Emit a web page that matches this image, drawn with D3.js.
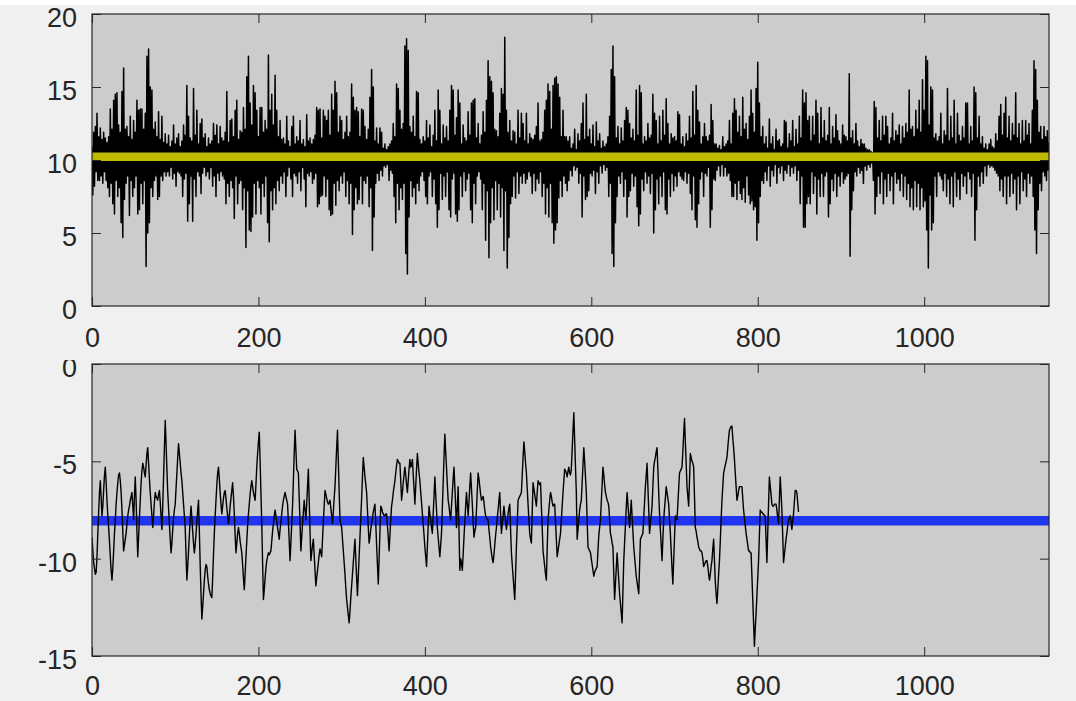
<!DOCTYPE html>
<html>
<head>
<meta charset="utf-8">
<script src="https://cdn.jsdelivr.net/npm/d3@7"></script>
<style>
  body { margin: 0; background: #f0f0f0; }
  svg { display: block; }
</style>
</head>
<body>
<svg id="chart" width="1076" height="701"></svg>
<script>
// Raw sampled signal (one value per sample index)
const signal = [
10.9,7.6,11.9,8.2,12.3,9.2,13.2,8.6,11.6,8.6,
12.2,8.9,11.4,8.4,11.9,9.2,11.5,8.6,11.2,8.1,
11.6,7.5,13.5,8.4,12.1,7.0,14.1,6.3,14.5,8.6,
14.6,7.5,12.4,8.1,11.9,5.7,14.7,4.7,16.3,7.3,
12.1,8.4,12.3,8.9,11.6,6.2,13.0,8.6,11.4,7.5,
12.7,8.1,11.9,8.9,14.1,6.3,13.4,6.6,13.5,8.4,
13.5,7.0,12.1,8.6,13.2,2.7,17.1,5.0,17.6,5.7,
15.0,8.1,14.8,7.5,12.1,8.6,12.6,8.9,11.6,7.3,
13.3,7.5,11.4,8.9,13.0,8.6,11.2,9.2,11.8,8.9,
11.1,9.2,11.7,8.9,10.9,9.5,11.3,8.7,12.4,9.1,
11.1,8.2,11.5,9.2,11.8,9.1,10.9,8.9,11.3,7.5,
12.4,8.7,11.7,9.1,15.1,5.8,13.0,7.0,11.5,8.9,
11.3,5.8,14.9,8.7,11.7,7.5,13.4,9.2,11.1,8.9,
12.5,7.7,12.8,9.1,11.5,9.5,11.8,8.9,10.9,9.2,
11.5,8.7,11.1,9.5,11.3,8.2,12.5,8.9,11.7,7.5,
12.4,9.1,11.1,8.6,12.3,9.2,11.5,8.9,11.3,8.7,
11.9,7.0,14.7,8.4,11.2,7.5,12.7,8.6,12.8,8.1,
11.6,6.0,13.4,8.9,14.1,7.0,11.4,8.4,12.0,8.6,
11.9,6.6,13.6,8.1,12.1,4.0,15.7,7.9,17.1,5.2,
13.9,5.1,12.4,6.1,15.1,8.4,14.6,6.3,13.4,8.6,
11.6,8.1,13.6,6.3,13.6,8.4,11.9,7.5,12.7,8.9,
12.1,5.7,17.2,4.4,13.4,7.9,14.5,6.6,12.4,8.1,
15.8,7.0,13.4,8.6,11.6,7.9,12.7,8.9,11.4,8.4,
11.5,9.2,11.1,7.5,13.0,8.9,11.3,9.5,10.9,8.7,
12.3,7.5,13.0,9.1,11.1,8.9,11.6,8.4,11.3,9.2,
12.7,7.9,11.1,9.5,11.4,8.7,10.9,6.8,13.1,9.1,
11.3,8.9,11.5,9.2,11.1,8.4,11.4,8.7,11.7,9.1,
13.6,6.8,13.4,7.0,13.5,7.5,11.5,7.6,13.4,8.9,
13.0,7.5,12.7,8.7,13.4,6.6,11.7,6.2,14.5,6.3,
13.4,8.4,15.4,6.9,14.6,8.6,11.9,7.9,13.0,8.9,
12.7,8.4,11.4,9.2,11.9,7.5,13.0,8.6,11.6,7.0,
11.9,8.4,15.2,4.9,14.3,6.6,13.4,8.1,13.6,7.0,
13.3,7.3,11.6,8.9,13.5,7.0,13.4,8.6,12.3,8.4,
11.4,8.9,12.1,6.8,14.3,8.1,16.2,3.8,15.0,6.1,
11.3,8.4,12.2,9.1,11.1,8.6,12.2,9.3,11.9,8.9,
10.8,9.6,11.1,9.5,10.7,9.7,10.9,8.6,11.1,9.3,
11.3,9.1,12.5,7.5,11.6,5.7,15.2,8.4,14.9,6.6,
13.4,8.1,12.1,7.3,12.5,8.4,17.8,3.6,18.3,2.2,
17.5,6.1,12.3,8.6,11.9,7.5,13.0,8.1,11.6,7.0,
14.7,8.4,14.6,7.9,11.4,8.9,11.1,9.2,11.6,8.6,
11.3,7.5,12.7,7.0,11.5,8.9,12.4,9.2,10.9,7.5,
11.7,8.7,13.4,7.0,11.3,5.4,14.8,6.6,13.4,9.1,
11.1,7.3,12.4,8.9,11.5,7.5,12.3,9.2,11.3,6.6,
13.4,6.1,15.1,8.7,14.8,9.1,11.7,6.3,12.9,5.8,
14.8,6.6,13.9,8.9,11.1,7.5,12.4,9.2,11.5,7.9,
11.3,8.7,13.3,9.1,11.7,6.6,13.9,5.7,14.1,8.4,
14.2,7.0,11.5,8.9,12.5,9.2,11.1,8.7,11.7,6.6,
13.3,8.4,11.9,4.5,14.1,7.9,16.8,3.3,15.7,5.7,
15.4,8.1,14.6,5.9,12.1,8.6,12.0,6.6,11.6,8.4,
13.2,6.1,14.9,8.1,14.5,3.8,18.4,7.9,13.4,2.6,
11.9,4.7,12.7,7.0,11.3,7.5,12.0,8.9,11.9,7.4,
11.1,9.2,13.4,7.7,11.5,8.9,13.2,8.4,12.5,9.1,
11.3,8.4,13.2,8.7,11.1,9.2,11.8,8.9,11.5,7.7,
11.4,9.1,11.7,7.9,12.3,8.7,13.9,8.4,11.3,9.2,
11.4,7.5,11.9,8.4,13.4,6.3,14.1,8.1,15.2,6.1,
14.7,8.4,12.1,5.7,15.1,4.3,15.6,5.2,15.7,5.7,
15.2,7.4,14.3,8.6,11.6,7.5,13.4,8.9,11.6,8.4,
11.6,7.9,11.3,8.6,11.6,9.3,10.8,8.9,11.1,9.6,
12.1,9.3,10.7,9.5,11.8,8.4,11.3,9.1,12.5,6.1,
13.9,8.9,11.4,7.3,14.5,7.5,11.6,7.9,12.1,9.1,
11.1,8.9,12.4,9.3,10.9,7.7,12.6,9.2,11.3,8.4,
11.8,9.6,10.8,9.1,11.3,9.7,10.9,9.3,11.1,9.5,
11.6,7.5,13.0,8.4,16.2,3.6,17.8,2.7,15.7,5.7,
11.5,7.5,12.3,8.9,11.1,8.4,12.2,9.2,11.3,7.5,
12.7,8.7,13.6,6.1,13.4,7.5,12.5,7.9,11.5,9.1,
12.1,8.2,11.3,8.9,14.8,6.8,11.7,5.5,15.1,6.3,
14.6,8.7,11.1,7.9,11.6,9.2,11.3,8.4,12.5,8.9,
11.5,7.7,11.7,9.1,14.5,5.0,13.2,6.6,12.7,8.7,
11.1,7.0,13.0,8.9,11.3,7.5,13.4,9.2,11.7,6.6,
14.2,6.3,12.5,8.7,11.1,7.5,11.8,9.1,11.5,7.9,
11.6,8.9,11.3,8.2,13.3,9.2,13.1,8.9,11.1,8.7,
11.6,8.6,10.9,9.2,11.8,8.4,11.3,9.1,13.0,7.7,
11.5,6.6,14.7,8.9,11.7,5.9,15.1,5.4,13.4,7.0,
12.6,8.7,11.1,9.2,11.6,7.5,12.5,9.1,11.6,8.9,
11.3,9.5,11.7,5.4,13.8,6.6,12.7,8.7,11.1,8.6,
11.1,9.3,10.8,9.6,11.0,8.9,10.7,9.7,11.6,8.9,
10.9,9.5,11.1,8.9,11.3,9.1,12.7,8.6,11.1,7.5,
13.2,7.5,14.2,8.4,13.4,7.3,11.9,8.6,13.0,7.7,
11.6,7.3,14.3,8.1,12.1,7.1,12.5,8.9,11.4,7.6,
13.0,7.0,14.8,7.2,13.2,6.6,11.9,6.8,14.9,4.5,
16.7,5.7,13.9,7.5,11.6,8.6,12.3,8.4,11.1,9.2,
11.6,8.6,10.8,9.6,12.8,8.2,11.1,9.3,11.6,8.9,
10.7,9.7,12.1,8.4,11.3,9.5,11.4,9.1,10.9,9.6,
11.1,8.6,12.7,9.3,12.6,9.1,10.8,9.7,11.8,8.9,
11.3,9.5,12.7,9.1,10.9,9.6,12.1,8.6,11.1,9.3,
13.0,7.0,11.5,8.9,14.8,5.4,13.9,5.4,14.6,7.0,
12.7,7.5,13.0,7.0,11.3,9.2,13.0,7.7,11.7,8.9,
14.1,6.3,13.2,8.7,11.1,7.5,13.6,9.1,11.5,7.5,
12.7,8.9,11.3,9.2,11.7,6.1,13.6,7.0,11.1,8.7,
12.3,7.9,11.5,9.1,13.1,7.5,12.0,8.9,11.3,8.2,
11.1,9.2,12.4,8.4,11.7,8.7,11.6,8.9,11.3,9.1,
15.9,3.4,11.5,6.6,12.0,7.9,11.1,9.2,12.5,8.9,
11.3,9.5,10.9,9.1,11.4,9.3,11.1,8.4,11.1,9.6,
10.8,9.3,10.7,9.7,10.7,9.5,10.6,9.8,10.5,8.6,
14.0,6.3,13.6,7.5,11.5,8.9,12.7,7.7,11.3,9.2,
13.0,7.0,11.7,8.7,13.0,7.5,12.3,9.1,11.1,7.9,
11.5,8.9,13.2,7.0,11.3,9.2,12.0,8.4,11.7,8.7,
12.4,7.9,11.1,9.1,12.3,7.5,11.5,8.9,12.5,7.3,
11.9,8.4,14.8,6.8,12.1,8.1,12.3,6.6,11.6,8.6,
13.4,6.8,12.1,8.4,14.1,6.6,11.9,8.1,15.5,6.8,
13.4,7.2,17.1,5.2,16.8,2.6,12.4,7.6,15.0,5.2,
14.8,5.7,11.5,8.9,11.8,7.5,11.3,9.2,11.6,8.9,
13.2,8.7,11.1,7.9,12.0,9.1,11.7,7.5,14.9,8.7,
11.3,7.0,13.0,8.9,11.5,6.8,14.1,9.2,11.1,7.5,
13.2,8.7,11.7,7.3,11.3,9.1,12.3,8.2,11.5,8.9,
13.9,7.7,13.9,9.2,11.1,8.7,12.3,7.5,11.3,9.1,
15.0,4.5,14.6,6.6,11.5,8.9,13.0,8.2,11.1,9.2,
11.6,8.4,10.8,9.6,11.1,8.9,10.7,9.7,11.1,9.5,
11.4,9.6,10.9,9.5,10.8,9.3,11.8,9.1,11.3,8.9,
13.0,7.9,13.8,8.7,11.7,7.5,13.2,8.9,14.3,7.0,
11.5,8.9,13.0,7.5,11.3,9.1,12.5,7.7,11.7,8.7,
14.6,6.6,11.5,8.9,12.5,7.0,11.1,9.2,12.7,7.9,
11.3,8.7,12.7,7.5,11.7,9.1,12.5,8.4,11.1,8.9,
13.4,7.5,16.8,5.2,16.2,3.6,14.1,6.6,11.9,8.4,
12.3,7.9,11.4,9.2,12.3,8.9,11.6,8.6,12.0,9.3,
11.2
];
const signalMean = 10.23;

// Filtered signal (shorter record)
const filtered = [
-8.9,-9.6,-10.2,-10.5,-10.8,-10.7,-9.9,-8.7,-7.6,-6.6,
-6.0,-6.9,-7.8,-7.3,-6.5,-5.7,-5.3,-6.1,-7.0,-7.8,
-8.4,-9.1,-9.9,-10.6,-11.1,-10.5,-9.6,-8.7,-8.0,-7.2,
-6.6,-6.1,-5.7,-5.6,-6.0,-6.6,-7.5,-8.6,-9.6,-9.3,
-9.0,-8.7,-8.2,-7.8,-7.5,-7.3,-7.0,-6.8,-6.6,-7.3,
-8.0,-6.8,-5.8,-7.0,-8.6,-9.9,-8.9,-7.9,-7.0,-6.1,
-5.5,-5.1,-5.3,-5.6,-5.8,-5.2,-4.6,-4.3,-5.1,-5.9,
-6.6,-7.2,-7.8,-8.4,-7.8,-7.1,-6.6,-6.8,-6.9,-7.0,
-6.7,-6.5,-7.1,-7.8,-8.5,-7.3,-5.8,-4.3,-2.9,-4.1,
-5.4,-6.6,-7.4,-8.2,-9.0,-9.7,-9.2,-8.5,-7.9,-7.5,
-7.2,-6.4,-5.6,-4.8,-4.1,-4.6,-5.1,-5.6,-6.0,-6.6,
-7.2,-7.8,-8.4,-9.8,-11.1,-10.4,-9.6,-8.8,-8.0,-7.3,
-7.9,-8.6,-9.2,-9.7,-9.3,-8.7,-8.1,-7.5,-7.0,-8.6,
-10.3,-11.8,-13.1,-12.5,-11.8,-11.1,-10.6,-10.3,-10.4,-10.9,
-11.3,-11.6,-11.8,-11.9,-12.0,-11.0,-9.8,-8.7,-7.8,-7.0,
-6.2,-5.6,-5.3,-5.9,-6.6,-7.2,-7.7,-7.3,-6.9,-6.6,
-6.5,-6.9,-7.4,-7.8,-8.2,-7.8,-7.3,-6.9,-6.5,-6.1,
-6.8,-7.7,-8.8,-9.7,-9.2,-8.7,-8.4,-8.7,-9.1,-9.4,
-9.7,-10.3,-11.0,-11.6,-10.8,-9.9,-9.1,-8.3,-7.7,-7.2,
-6.7,-6.3,-6.0,-6.3,-6.6,-6.8,-7.0,-6.2,-5.3,-4.6,
-4.0,-3.5,-5.0,-6.6,-8.2,-10.2,-12.1,-11.6,-11.0,-10.5,
-10.1,-9.9,-9.7,-9.8,-9.7,-9.6,-9.1,-8.6,-8.2,-7.8,
-7.5,-7.8,-8.1,-8.4,-8.7,-9.0,-8.5,-8.1,-7.7,-7.3,
-7.0,-6.8,-6.6,-6.8,-7.0,-7.2,-8.1,-9.1,-10.1,-9.2,
-8.2,-7.3,-6.0,-4.6,-3.4,-4.4,-5.4,-5.5,-5.6,-6.9,
-8.2,-9.6,-8.9,-8.2,-7.6,-7.0,-7.5,-8.0,-7.2,-6.3,
-5.4,-7.0,-8.6,-10.1,-9.7,-9.3,-9.0,-9.8,-10.6,-11.4,
-11.0,-10.6,-10.2,-9.8,-9.5,-9.7,-9.9,-9.0,-8.1,-7.3,
-6.5,-6.7,-6.9,-7.1,-7.2,-7.1,-7.0,-7.4,-7.8,-8.2,
-7.6,-6.9,-6.3,-5.3,-4.3,-3.4,-5.0,-6.5,-8.0,-8.2,
-8.4,-9.0,-9.6,-10.2,-10.8,-11.5,-12.1,-12.5,-12.9,-13.3,
-12.7,-12.0,-11.4,-10.8,-10.2,-9.6,-9.0,-10.0,-11.0,-11.9,
-10.9,-9.9,-8.9,-7.9,-6.9,-5.8,-4.8,-5.3,-5.8,-6.2,
-6.6,-7.5,-8.4,-9.2,-8.9,-8.5,-8.2,-7.9,-7.6,-7.4,
-7.2,-8.2,-9.3,-10.3,-11.3,-10.0,-8.6,-7.3,-7.4,-7.6,
-7.7,-7.8,-7.8,-7.7,-7.7,-8.3,-8.9,-9.6,-8.8,-8.0,
-7.3,-7.0,-6.6,-6.3,-6.0,-5.6,-5.2,-4.9,-5.0,-5.1,
-5.1,-6.0,-7.0,-6.6,-6.1,-5.7,-5.3,-5.7,-6.2,-6.6,
-6.0,-5.4,-4.9,-5.3,-5.2,-4.9,-5.7,-6.4,-7.2,-6.3,
-5.4,-4.6,-5.1,-5.6,-6.0,-6.6,-7.1,-7.7,-8.2,-8.8,
-9.4,-9.9,-10.4,-9.4,-8.3,-7.3,-7.7,-8.0,-8.4,-8.7,
-7.7,-6.8,-5.8,-6.7,-7.5,-8.4,-8.9,-9.4,-9.9,-9.3,
-8.7,-7.4,-6.1,-4.8,-3.6,-4.5,-5.3,-6.2,-7.0,-7.3,
-7.7,-8.0,-7.3,-6.6,-5.9,-5.3,-6.3,-7.3,-8.4,-7.3,
-6.3,-8.5,-10.6,-10.0,-10.2,-10.6,-9.8,-8.9,-8.1,-7.3,
-6.6,-7.2,-7.8,-7.1,-6.3,-5.6,-6.4,-7.2,-8.1,-8.9,
-8.6,-8.4,-7.5,-6.5,-5.6,-5.9,-6.3,-6.7,-7.0,-6.9,
-6.8,-7.1,-7.5,-7.8,-7.9,-8.0,-8.0,-8.5,-8.9,-9.4,
-9.7,-10.0,-10.2,-9.8,-9.3,-8.8,-8.4,-7.9,-7.5,-7.0,
-6.6,-7.7,-8.7,-8.2,-7.8,-7.3,-7.7,-8.1,-8.5,-8.1,
-7.7,-7.4,-7.2,-8.5,-9.7,-10.3,-10.9,-11.5,-12.1,-10.8,
-9.4,-8.2,-7.0,-6.9,-6.8,-6.7,-6.6,-5.7,-4.8,-4.0,
-4.5,-5.1,-5.6,-6.4,-7.2,-8.0,-8.7,-9.0,-9.2,-7.6,
-6.1,-6.4,-6.7,-7.0,-7.3,-6.6,-6.0,-6.1,-6.2,-6.1,
-7.3,-8.4,-9.6,-10.0,-10.4,-10.8,-11.1,-9.5,-8.0,-7.5,
-7.0,-6.6,-6.8,-7.1,-7.3,-7.2,-7.2,-8.1,-9.0,-9.9,
-9.6,-9.3,-9.0,-8.7,-8.0,-7.3,-6.6,-6.0,-5.4,-5.5,
-5.6,-5.8,-5.5,-5.3,-5.6,-5.7,-5.4,-4.4,-3.4,-2.5,
-3.9,-5.3,-6.6,-9.0,-8.5,-8.0,-7.5,-7.2,-7.0,-6.1,
-5.2,-4.3,-5.0,-5.8,-6.6,-8.0,-9.4,-9.5,-9.6,-9.7,
-10.0,-10.3,-10.6,-10.9,-10.7,-10.6,-10.5,-10.4,-9.6,-8.8,
-8.4,-8.0,-7.1,-6.2,-5.3,-5.7,-6.2,-6.6,-6.8,-7.0,
-7.1,-7.3,-8.0,-8.7,-8.9,-9.2,-9.4,-10.8,-12.1,-11.3,
-10.5,-9.7,-10.4,-11.1,-11.8,-12.3,-12.8,-13.3,-11.7,-10.1,
-9.2,-8.3,-7.4,-6.6,-7.2,-7.8,-8.4,-7.7,-7.0,-7.8,
-8.6,-9.4,-9.9,-10.4,-10.9,-11.2,-11.5,-11.8,-10.4,-9.0,
-8.9,-8.8,-8.7,-7.9,-7.1,-6.3,-5.7,-5.1,-6.3,-7.5,
-8.7,-8.2,-7.8,-7.3,-6.3,-5.3,-5.0,-4.8,-4.5,-4.3,
-5.4,-6.6,-7.7,-8.5,-9.3,-10.1,-9.0,-8.0,-7.4,-6.9,
-6.3,-6.6,-6.9,-7.2,-8.0,-8.7,-9.6,-10.5,-11.3,-10.1,
-8.9,-7.8,-7.9,-8.0,-7.2,-6.4,-5.6,-5.5,-5.4,-5.3,
-4.5,-3.6,-2.8,-4.0,-5.1,-6.3,-6.8,-7.3,-6.0,-4.6,
-4.8,-5.0,-5.1,-5.3,-6.8,-8.4,-8.6,-8.9,-9.1,-9.4,
-9.5,-9.6,-9.6,-9.7,-10.0,-10.4,-10.3,-10.2,-10.1,-10.1,
-10.4,-10.8,-11.1,-10.8,-10.4,-10.1,-9.5,-9.0,-10.1,-11.2,
-11.8,-12.3,-11.6,-10.8,-10.1,-9.1,-8.0,-7.0,-6.3,-5.6,
-5.4,-5.2,-5.0,-4.8,-4.3,-3.8,-3.4,-3.3,-3.2,-3.2,
-3.8,-4.3,-4.9,-5.6,-6.3,-7.0,-6.8,-6.5,-6.3,-6.3,
-6.3,-6.3,-6.9,-7.5,-7.9,-8.3,-8.7,-9.0,-9.3,-9.6,
-9.6,-9.7,-9.7,-10.9,-12.1,-13.3,-14.5,-13.6,-12.8,-11.9,
-11.0,-10.1,-8.8,-7.5,-7.6,-7.6,-7.7,-7.7,-7.8,-7.8,
-9.0,-10.2,-8.7,-7.2,-5.8,-6.3,-6.7,-7.2,-7.3,-7.3,
-7.2,-7.2,-7.2,-7.5,-7.9,-8.2,-7.0,-5.8,-6.6,-7.5,
-8.8,-10.2,-9.8,-9.4,-9.0,-8.7,-8.3,-8.0,-7.9,-7.8,
-8.1,-8.5,-8.1,-7.7,-7.1,-6.5,-6.5,-6.6,-7.1,-7.6
];
const filteredMean = -8.05;

// Axis limits and tick values
const xMax = 1150;
const xTicks = [0, 200, 400, 600, 800, 1000];
const topYDomain = [0, 20];
const topYTicks = [0, 5, 10, 15, 20];
const bottomYDomain = [-15, 0];
const bottomYTicks = [-15, -10, -5, 0];

const W = 1076, H = 701;
const left = 92, right = 1049;
const FONT = '"Liberation Sans", Arial, Helvetica, sans-serif';
const INK = "#262626";

const svg = d3.select("#chart");
svg.append("rect").attr("width", W).attr("height", H).attr("fill", "#f0f0f0");
svg.append("rect").attr("width", W).attr("height", 5).attr("fill", "#ffffff");

const defs = svg.append("defs");
const x = d3.scaleLinear().domain([0, xMax]).range([left, right]);

function styleAxis(sel) {
  sel.attr("font-family", FONT).attr("font-size", 27).attr("color", INK);
  sel.select(".domain").remove();
  sel.selectAll(".tick line").attr("stroke", INK).attr("stroke-width", 1);
  sel.selectAll(".tick text").attr("fill", INK);
}

function drawPanel(cfg) {
  const y = d3.scaleLinear().domain(cfg.yDomain).range([cfg.bottom, cfg.top]);
  const g = svg.append("g");

  // plot background
  g.append("rect")
    .attr("x", left).attr("y", cfg.top)
    .attr("width", right - left).attr("height", cfg.bottom - cfg.top)
    .attr("fill", "#cccccc");

  const clipId = "clip-" + cfg.name;
  defs.append("clipPath").attr("id", clipId)
    .append("rect")
    .attr("x", left).attr("y", cfg.top)
    .attr("width", right - left).attr("height", cfg.bottom - cfg.top);

  const plot = g.append("g").attr("clip-path", `url(#${clipId})`);

  const dataLine = d3.line().x((d, i) => x(i)).y(d => y(d));
  const levelLine = d3.line().x(d => x(d)).y(() => y(cfg.level));

  const drawData = () => plot.append("path")
    .datum(cfg.series)
    .attr("fill", "none")
    .attr("stroke", "#000000")
    .attr("stroke-width", cfg.dataWidth)
    .attr("stroke-linejoin", "round")
    .attr("d", dataLine);

  const drawLevel = () => plot.append("path")
    .datum([0, xMax])
    .attr("fill", "none")
    .attr("stroke", cfg.levelColor)
    .attr("stroke-width", cfg.levelWidth)
    .attr("d", levelLine);

  if (cfg.levelOnTop) { drawData(); drawLevel(); }
  else { drawLevel(); drawData(); }

  // bottom axis with labels, mirrored ticks on top
  const xb = g.append("g").attr("transform", `translate(0,${cfg.bottom})`)
    .call(d3.axisBottom(x).tickValues(xTicks).tickSize(-9).tickSizeOuter(0)
      .tickPadding(cfg.xPad).tickFormat(d => String(d)));
  styleAxis(xb);

  const xt = g.append("g").attr("transform", `translate(0,${cfg.top})`)
    .call(d3.axisTop(x).tickValues(xTicks).tickSize(-9).tickSizeOuter(0).tickFormat(() => ""));
  styleAxis(xt);

  // left axis with labels (optionally cut off above a given height), mirrored ticks on right
  const yWrap = g.append("g");
  if (cfg.labelClipTop !== undefined) {
    const lid = "lclip-" + cfg.name;
    defs.append("clipPath").attr("id", lid)
      .append("rect").attr("x", 0).attr("y", cfg.labelClipTop)
      .attr("width", W).attr("height", H - cfg.labelClipTop);
    yWrap.attr("clip-path", `url(#${lid})`);
  }
  const yl = yWrap.append("g").attr("transform", `translate(${left},0)`)
    .call(d3.axisLeft(y).tickValues(cfg.yTicks).tickSize(-9).tickSizeOuter(0)
      .tickPadding(15).tickFormat(d => String(d)));
  styleAxis(yl);
  yl.selectAll(".tick text").attr("dy", "0.46em");

  const yr = g.append("g").attr("transform", `translate(${right},0)`)
    .call(d3.axisRight(y).tickValues(cfg.yTicks).tickSize(-9).tickSizeOuter(0).tickFormat(() => ""));
  styleAxis(yr);

  // axes box
  g.append("rect")
    .attr("x", left).attr("y", cfg.top)
    .attr("width", right - left).attr("height", cfg.bottom - cfg.top)
    .attr("fill", "none").attr("stroke", INK).attr("stroke-width", 1.2);
}

drawPanel({
  name: "raw", top: 14, bottom: 306,
  yDomain: topYDomain, yTicks: topYTicks,
  series: signal, dataWidth: 1.5,
  level: signalMean, levelColor: "#bfb900", levelWidth: 8.5, levelOnTop: true,
  xPad: 22
});

drawPanel({
  name: "filtered", top: 364, bottom: 656,
  yDomain: bottomYDomain, yTicks: bottomYTicks,
  series: filtered, dataWidth: 1.4,
  level: filteredMean, levelColor: "#1f35f0", levelWidth: 9.5, levelOnTop: false,
  xPad: 20, labelClipTop: 360
});
</script>
</body>
</html>
